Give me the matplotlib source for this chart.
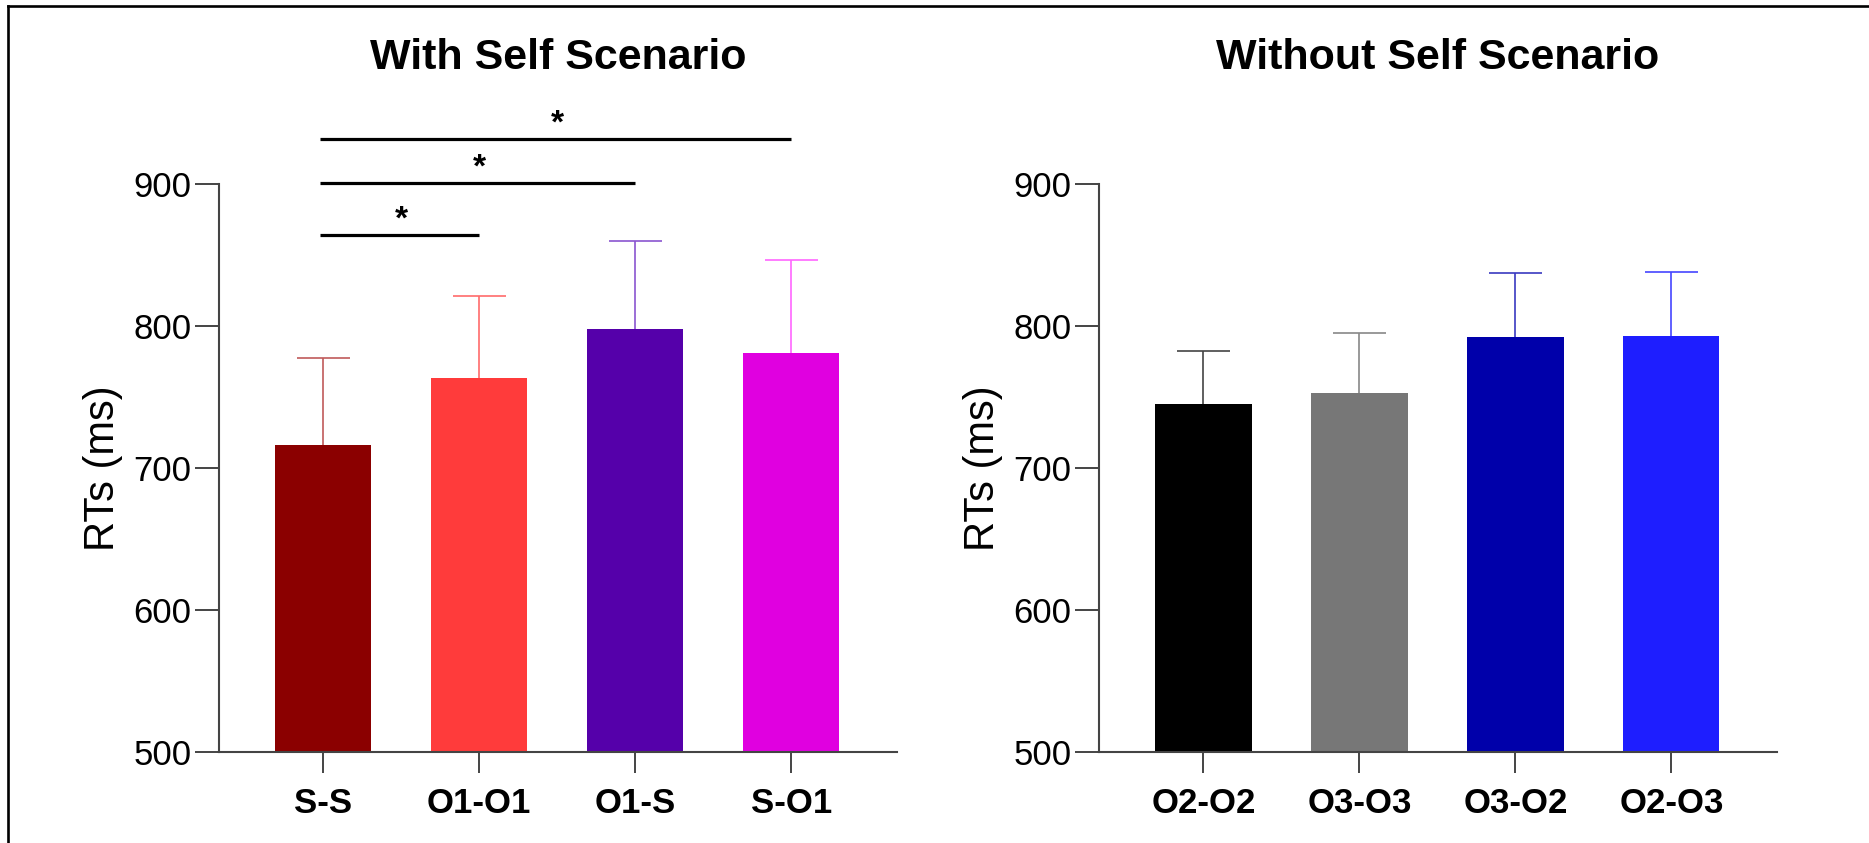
import matplotlib.pyplot as plt
from matplotlib.lines import Line2D

plt.rcParams['font.family'] = ['Liberation Sans', 'DejaVu Sans']

# left panel: with self
self_labels = ['S-S', 'O1-O1', 'O1-S', 'S-O1']
self_means = [716, 763, 798, 781]
self_upper = [777, 821, 860, 846]
self_colors = ['#8B0000', '#FF3B3B', '#5500AA', '#E000E0']
self_err_colors = ['#C05A5A', '#FF6B6B', '#8A55D0', '#FF66FF']

# right panel: without self
other_labels = ['O2-O2', 'O3-O3', 'O3-O2', 'O2-O3']
other_means = [745, 753, 792, 793]
other_upper = [782, 795, 837, 838]
other_colors = ['#000000', '#777777', '#0000AA', '#1E1EFF']
other_err_colors = ['#444444', '#888888', '#3A3AC0', '#4646FF']

# significance brackets (from bar, to bar, height)
sig_pairs = [(0, 1, 864), (0, 2, 900.5), (0, 3, 931.5)]

fig = plt.figure(figsize=(18.69, 8.43), dpi=100)
ax1 = fig.add_axes([0.1173, 0.108, 0.3624, 0.6741])
ax2 = fig.add_axes([0.5882, 0.108, 0.3624, 0.6741])


def draw_panel(ax, labels, means, upper, colors, err_colors, title):
    x = list(range(len(labels)))
    ax.bar(x, [m - 500 for m in means], bottom=500, width=0.617,
           color=colors, linewidth=0, zorder=2)
    # upper-only error bars, cap only at the top
    ax.vlines(x, means, upper, colors=err_colors, lw=1.2, zorder=1)
    ax.hlines(upper, [i - 0.171 for i in x], [i + 0.171 for i in x],
              colors=err_colors, lw=1.2, zorder=1)
    ax.set_xlim(-0.667, 3.675)
    ax.set_ylim(500, 900)
    ax.set_yticks([500, 600, 700, 800, 900])
    ax.set_xticks(x)
    ax.set_xticklabels(labels, fontsize=25, fontweight='bold')
    ax.tick_params(axis='y', labelsize=25, length=17, width=1.4,
                   color='#444444', pad=3)
    ax.tick_params(axis='x', length=15, width=1.4, color='#444444', pad=10)
    for s in ['top', 'right']:
        ax.spines[s].set_visible(False)
    for s in ['left', 'bottom']:
        ax.spines[s].set_color('#444444')
        ax.spines[s].set_linewidth(1.5)
    ax.text(-0.172, 0.5, 'RTs (ms)', transform=ax.transAxes, rotation=90,
            ha='center', va='center', fontsize=30)
    ax.text(0.5, 1.222, title, transform=ax.transAxes, ha='center',
            va='center', fontsize=31, fontweight='bold')


draw_panel(ax1, self_labels, self_means, self_upper, self_colors,
           self_err_colors, 'With Self Scenario')
draw_panel(ax2, other_labels, other_means, other_upper, other_colors,
           other_err_colors, 'Without Self Scenario')

for a, b, h in sig_pairs:
    ax1.plot([a - 0.02, b], [h, h], color='black', lw=2.3,
             clip_on=False, solid_capstyle='butt')
    ax1.text((a + b) / 2, h + 4.5, '*', ha='center', va='baseline',
             fontsize=24, fontweight='bold', clip_on=False)

# frame lines along top and left edge
fig.add_artist(Line2D([0.0043, 1.0], [0.9929, 0.9929], color='black', lw=1.9))
fig.add_artist(Line2D([0.0043, 0.0043], [0.0, 0.9929], color='black', lw=1.9))

fig.savefig('out.png', dpi=100)
